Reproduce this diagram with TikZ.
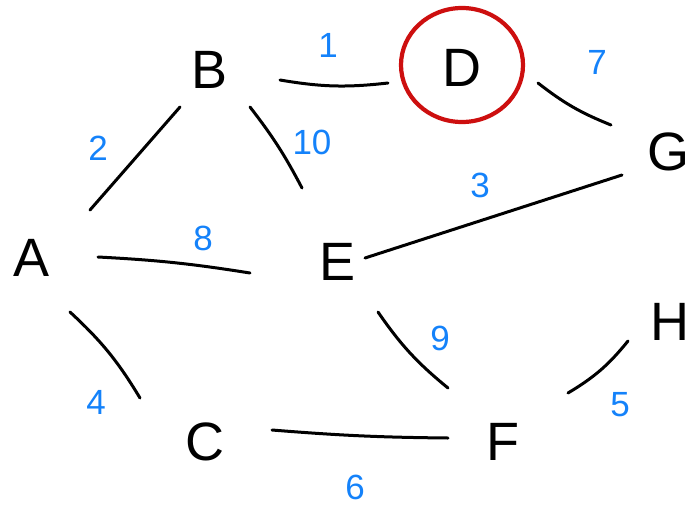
\documentclass[tikz,border=0pt]{standalone}
\usepackage{fontspec}
\setmainfont{Liberation Sans}
\definecolor{wblue}{RGB}{20,130,250}
\definecolor{cred}{RGB}{205,15,15}
\begin{document}
\begin{tikzpicture}[x=1pt,y=-1pt,
 vtx/.style={font=\fontsize{54}{54}\selectfont, inner sep=0},
 wt/.style={font=\fontsize{35}{35}\selectfont, text=wblue, inner sep=0},
 edge/.style={line width=3pt, line cap=round, black}]
\useasboundingbox (0,0) rectangle (688,509);
\node[vtx] (A) at (32,258) {A};
\node[vtx] (B) at (210,70) {B};
\node[vtx] (D) at (462,68) {D};
\node[vtx] (G) at (668,152) {G};
\node[vtx] (E) at (338,262) {E};
\node[vtx] (H) at (670,322) {H};
\node[vtx] (C) at (205,442) {C};
\node[vtx] (F) at (503,442) {F};
\draw[cred, line width=4.2pt] (D.center) ++(0,-3) ellipse [x radius=61pt, y radius=57pt];
\draw[edge] ([shift={(58,-48)}]A.center) -- ([shift={(-30,37)}]B.center);
\draw[edge] ([shift={(70,10)}]B.center) to[bend right=8] ([shift={(-74,15)}]D.center);
\draw[edge] ([shift={(40,37)}]B.center) to[bend left=5] ([shift={(-36,-74)}]E.center);
\draw[edge] ([shift={(76,15)}]D.center) to[bend right=8] ([shift={(-57,-27)}]G.center);
\draw[edge] ([shift={(66,-1)}]A.center) to[bend left=3] ([shift={(-88,11)}]E.center);
\draw[edge] ([shift={(27,-4)}]E.center) -- ([shift={(-46,23)}]G.center);
\draw[edge] ([shift={(38,54)}]A.center) to[bend left=8] ([shift={(-65,-44)}]C.center);
\draw[edge] ([shift={(40,50)}]E.center) to[bend right=8] ([shift={(-55,-54)}]F.center);
\draw[edge] ([shift={(67,-12)}]C.center) to[bend right=2] ([shift={(-55,-4)}]F.center);
\draw[edge] ([shift={(65,-49)}]F.center) to[bend right=10] ([shift={(-42,19)}]H.center);
\node[wt] (w2) at (98,148) {2};
\node[wt] (w1) at (328,45) {1};
\node[wt] (w10) at (312,142) {10};
\node[wt] (w7) at (597,62) {7};
\node[wt] (w8) at (203,238) {8};
\node[wt] (w3) at (480,185) {3};
\node[wt] (w4) at (96,402) {4};
\node[wt] (w9) at (440,338) {9};
\node[wt] (w6) at (355,487) {6};
\node[wt] (w5) at (620,405) {5};
\end{tikzpicture}
\end{document}
